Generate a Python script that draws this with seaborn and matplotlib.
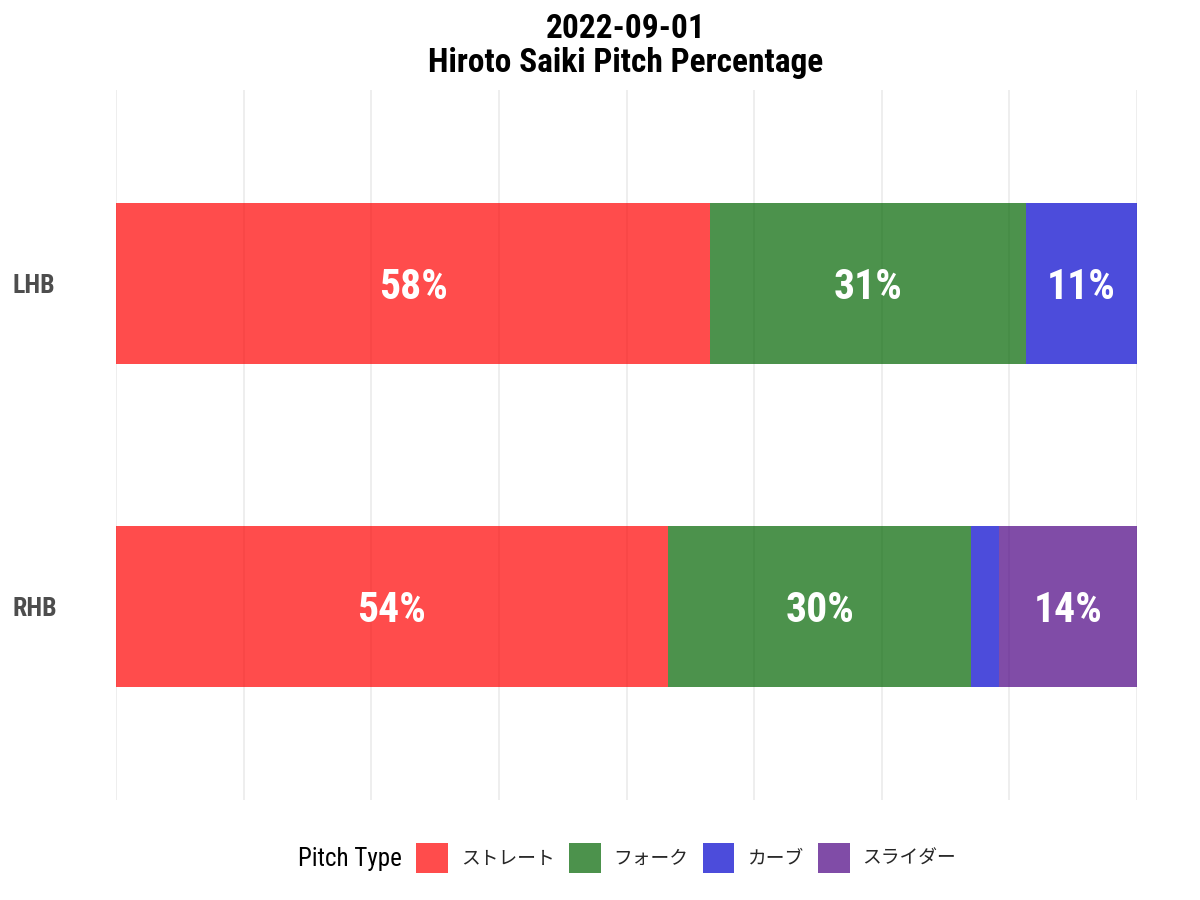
import matplotlib
matplotlib.use("Agg")
import matplotlib.pyplot as plt
import seaborn as sns
import pandas as pd
import numpy as np
from matplotlib import font_manager as fm
from matplotlib.patches import Patch

# ---- data ----
batters = ["LHB", "RHB"]
pitch_types = ["ストレート", "フォーク", "カーブ", "スライダー"]
lhb_counts = [32, 17, 6, 0]
rhb_counts = [20, 11, 1, 5]
pitch_colors = ["#FF0000", "#006400", "#0000CD", "#4B0082"]
title_lines = ["2022-09-01", "Hiroto Saiki Pitch Percentage"]
legend_title = "Pitch Type"

sns.set_theme(style="white")
names = {f.name for f in fm.fontManager.ttflist}
cond = None
for cand in ["Roboto Condensed", "Liberation Sans Narrow", "Roboto", "DejaVu Sans"]:
    if cand in names:
        cond = cand
        break
plt.rcParams["font.family"] = [cond, "Noto Sans CJK JP", "DejaVu Sans"]

rows = []
for b, counts in zip(batters, [lhb_counts, rhb_counts]):
    tot = sum(counts)
    for p, c in zip(pitch_types, counts):
        rows.append({"batter": b, "pitch": p, "prop": c / tot})
df = pd.DataFrame(rows)

fig = plt.figure(figsize=(12, 9), dpi=100)
ax = fig.add_axes([116 / 1200, 100 / 900, (1137 - 116) / 1200, 710 / 900])

left = {b: 0.0 for b in batters}
for p, col in zip(pitch_types, pitch_colors):
    sub = df[df.pitch == p]
    before = len(ax.patches)
    sns.barplot(data=sub, x="prop", y="batter", order=batters, color=col,
                alpha=0.7, width=0.5, ax=ax, linewidth=0, saturation=1, zorder=2)
    new = ax.patches[before:]
    for patch, (_, r) in zip(new, sub.set_index("batter").loc[batters].reset_index().iterrows()):
        patch.set_x(left[r.batter])
        if r.prop >= 0.05:
            cy = patch.get_y() + patch.get_height() / 2
            ax.annotate(f"{round(r.prop * 100):.0f}%", (left[r.batter] + r.prop / 2, cy),
                        xytext=(0, -3), textcoords="offset points",
                        ha="center", va="center", color="white", fontsize=30,
                        fontweight="bold", zorder=3)
        left[r.batter] += r.prop

ax.set_xlim(0, 1)
ax.set_ylim(1.6, -0.6)
ax.set_xticks(np.arange(0, 1.001, 0.125))
ax.xaxis.grid(True, color="#EBEBEB", linewidth=1.2, zorder=0)
ax.yaxis.grid(False)
ax.set_axisbelow(True)
ax.tick_params(axis="x", labelbottom=False, length=0)
ax.tick_params(axis="y", length=0, pad=74.5)
for lab in ax.get_yticklabels():
    lab.set_fontsize(18.5)
    lab.set_fontweight("bold")
    lab.set_color("#4D4D4D")
    lab.set_horizontalalignment("left")
ax.set_xlabel("")
ax.set_ylabel("")
for s in ax.spines.values():
    s.set_visible(False)

fig.text(626 / 1200, 0.986, "\n".join(title_lines), ha="center", va="top",
         fontsize=24, fontweight="bold", linespacing=1.08, color="black")

fig.text(350 / 1200, 1 - 859 / 900, legend_title, ha="center", va="center",
         fontsize=18, color="black")
handles = [Patch(facecolor=c, alpha=0.7, edgecolor="none") for c in pitch_colors]
fig.legend(handles, pitch_types, loc="center left",
           bbox_to_anchor=(416 / 1200, 1 - 858 / 900), ncol=4, frameon=False,
           prop={"family": ["Noto Sans CJK JP"], "size": 13.5},
           handlelength=1.7, handleheight=2.1, handletextpad=0.7,
           columnspacing=0.74, borderpad=0, borderaxespad=0)

fig.savefig("out.png", dpi=100)
